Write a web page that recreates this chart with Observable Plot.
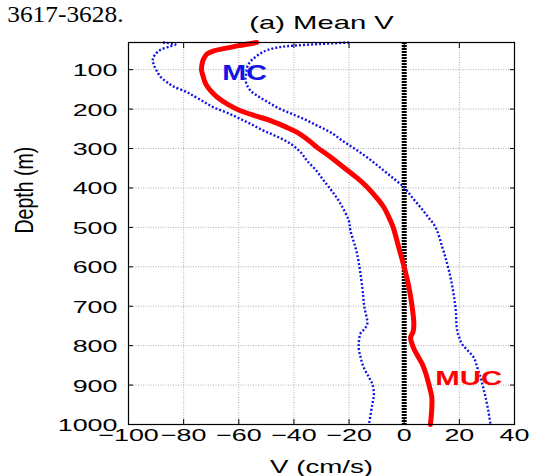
<!DOCTYPE html>
<html><head><meta charset="utf-8">
<script src="https://cdn.jsdelivr.net/npm/d3@7"></script>
<script src="https://cdn.jsdelivr.net/npm/@observablehq/plot@0.6"></script>
<style>body{margin:0;background:#fff}</style>
</head><body>
<script>
// Mean meridional velocity (red) and bounds (blue dotted), V in cm/s vs depth (m)
const meanDepth = [31,39,46,52,60,73,85,101,115,136,155,170,188,204,217,229,245,259,280,297,320,348,375,398,425,449,483,500,550,601,652,703,745,765,779,795,808,825,846,870,897,931,960,1000];
const meanV     = [-53.5,-60,-65,-69,-71.5,-72.8,-73.3,-73.5,-73,-72,-70,-67.8,-64,-59.4,-54,-48.5,-43,-38.8,-34.5,-31.6,-27,-21.9,-17,-13.4,-10,-7.4,-5,-4,-2,0,1.7,2.9,3.5,3.2,2.3,2.8,3.5,4.8,6.5,7.8,8.9,10,10,9.5];

const lowerDepth = [31,36,41,50,63,75,84,100,118,132,143,157,164,180,196,210,225,240,255,270,288,310,331,355,381,410,440,483,508,567,652,700,745,758,770,804,830,855,880,897,922,950,1000];
const lowerV     = [-87.5,-83,-85,-88.5,-90.5,-91.2,-91,-90,-88.4,-86,-83.6,-78.7,-77,-73,-69,-64,-59.4,-55,-50.9,-46,-41.2,-37.5,-35.2,-32,-29.2,-26,-23.1,-20.1,-19.5,-17.1,-15.2,-14.5,-13.4,-14.5,-15.9,-16.5,-15.8,-14.7,-12.8,-11.6,-11,-11.6,-12.8];

const upperDepth = [31,35,39,43,50,56,67,77,90,109,125,141,155,166,180,196,210,225,242,259,282,305,330,356,378,398,425,449,475,500,550,590,627,665,703,762,780,796,812,830,855,880,905,931,965,1000];
const upperV     = [-20,-31,-40,-45.5,-49.5,-51.5,-53.8,-55.5,-56.8,-57.3,-57.6,-56.9,-55.5,-53.3,-50,-46,-41.5,-36.4,-31.5,-26.7,-22,-17,-12,-7.4,-3.5,-0.1,3,5.9,8.8,11.4,13.8,15.5,16.8,17.8,18.6,19.2,20,21,23,25.2,26.5,27.7,28.6,29.5,30.5,31.3];

const xTicks = [-100,-80,-60,-40,-20,0,20,40];
const yTicks = [100,200,300,400,500,600,700,800,900,1000];
const xGrid = [-80,-60,-40,-20,0,20];
const yGrid = [100,200,300,400,500,600,700,800,900];

const labelNames = ["MC","MUC"];
const labelV = [-57.9, 23.4];
const labelDepth = [108, 883];

const rows = (ds, vs) => ds.map((d, i) => ({depth: d, v: vs[i]}));
const meanRows = rows(meanDepth, meanV);
const lowerRows = rows(lowerDepth, lowerV);
const upperRows = rows(upperDepth, upperV);

const blue = "#1414e6";
const red = "#ff0000";
const fmtX = d => d < 0 ? "\u2212" + Math.abs(d) : String(d);
const fmtY = d => String(d);

const plot = Plot.plot({
  width: 533, height: 476,
  marginLeft: 128, marginRight: 19, marginTop: 42, marginBottom: 52,
  style: {fontFamily: "'Liberation Sans', Arial, sans-serif", background: "white", color: "black"},
  x: {domain: [-100, 40]},
  y: {domain: [31, 1000], reverse: true},
  marks: [
    Plot.gridX(xGrid, {stroke: "#b0b0b0", strokeOpacity: 1, strokeDasharray: "1,1.5"}),
    Plot.gridY(yGrid, {stroke: "#b0b0b0", strokeOpacity: 1, strokeDasharray: "1,1.5"}),
    // labels
    Plot.axisX(xTicks, {anchor: "bottom", tickSize: 0, tickPadding: 4, fontSize: 17, label: null, tickFormat: fmtX}),
    Plot.axisY(yTicks, {anchor: "left", tickSize: 0, tickPadding: 11, fontSize: 17, label: null, dy: 1, tickFormat: fmtY}),
    // inward ticks
    Plot.axisX(xTicks, {anchor: "bottom", tickSize: 5, dy: -5, fill: "none", label: null}),
    Plot.axisX(xTicks, {anchor: "top", tickSize: 5, dy: 5, fill: "none", label: null}),
    Plot.axisY(yTicks, {anchor: "left", tickSize: 5, dx: 5, fill: "none", label: null}),
    Plot.axisY(yTicks, {anchor: "right", tickSize: 5, dx: -5, fill: "none", label: null}),
    Plot.ruleX([0], {stroke: "black", strokeWidth: 5, strokeDasharray: "2,1", strokeLinecap: "butt"}),
    Plot.line(lowerRows, {x: "v", y: "depth", stroke: blue, strokeWidth: 2.4, strokeDasharray: "2,2", strokeLinecap: "butt", curve: "catmull-rom"}),
    Plot.line(upperRows, {x: "v", y: "depth", stroke: blue, strokeWidth: 2.4, strokeDasharray: "2,2", strokeLinecap: "butt", curve: "catmull-rom"}),
    Plot.line(meanRows, {x: "v", y: "depth", stroke: red, strokeWidth: 5, curve: "catmull-rom"}),
    Plot.text([0], {x: () => labelV[0], y: () => labelDepth[0], text: () => labelNames[0], fill: blue, fontWeight: "bold", fontSize: 22, lineAnchor: "middle"}),
    Plot.text([1], {x: () => labelV[1], y: () => labelDepth[1], text: () => labelNames[1], fill: red, fontWeight: "bold", fontSize: 21, lineAnchor: "middle"}),
    Plot.frame({stroke: "black", strokeWidth: 1.2}),
    Plot.text(["(a) Mean V"], {text: d => d, frameAnchor: "top", dy: -19.6, fontSize: 18.5, lineAnchor: "middle"}),
    Plot.text(["V (cm/s)"], {text: d => d, frameAnchor: "bottom", dy: 42.4, fontSize: 17.5, lineAnchor: "middle"}),
    Plot.text(["Depth (m)"], {text: d => d, frameAnchor: "left", dx: -104, rotate: -90, fontSize: 26, lineAnchor: "middle"}),
    Plot.text(["3617-3628."], {text: d => d, frameAnchor: "top-left", dx: -121.3, dy: -28.5, textAnchor: "start", fontSize: 23.5, lineAnchor: "middle", fontFamily: "'Liberation Serif', 'Times New Roman', serif"})
  ]
});
document.body.append(plot);

plot.querySelectorAll("text").forEach(t => {
  const s = t.textContent;
  let f = 1.58;
  if (s === "Depth (m)") f = 0.75;
  else if (s.startsWith("3617")) f = 1.08;
  else if (s === "MC") f = 1.3;
  else if (s === "MUC") f = 1.4;
  const w = t.getComputedTextLength();
  if (w > 0) {
    t.setAttribute("textLength", (w * f).toFixed(2));
    t.setAttribute("lengthAdjust", "spacingAndGlyphs");
  }
});
</script>
</body></html>
